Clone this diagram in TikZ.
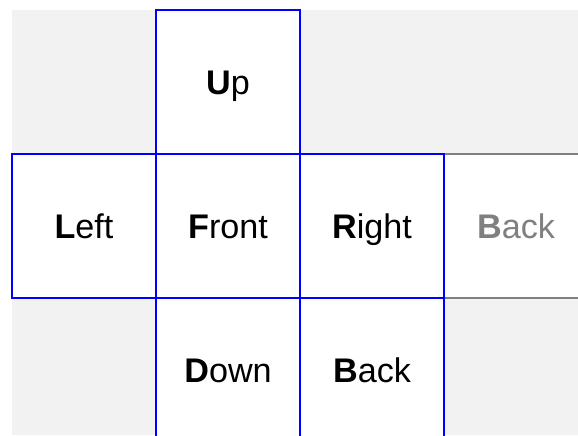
\documentclass[tikz,border=0pt]{standalone}
\usepackage{fontspec}
\setmainfont{Liberation Sans}
\usepackage{tikz}
\usetikzlibrary{positioning}
\definecolor{blau}{HTML}{0000FF}
\definecolor{hgrund}{HTML}{F2F2F2}
\definecolor{grau}{HTML}{808080}
\tikzset{
  seite/.style={rectangle,draw=blau,fill=white,line width=0.6pt,minimum size=2cm,
    inner sep=0pt,outer sep=0pt,text height=9.7pt,text depth=0pt,
    font=\fontsize{13.5}{16}\selectfont},
  seiteg/.style={seite,draw=grau,text=grau},
}
\begin{document}
\begin{tikzpicture}[node distance=0pt]
  \useasboundingbox (-0.167,0.139) rectangle (7.861,-5.903);
  \clip (-0.167,0.139) rectangle (7.861,-5.903);
  \fill[hgrund] (0,0) rectangle (7.861,-5.903);
  % ausgeblendete Rueckseite
  \node[seiteg] (hinten2) at (7,-3) {\textbf{B}ack};
  \node[seite] (vorne) at (3,-3) {\textbf{F}ront};
  \node[seite,above=of vorne] (oben) {\textbf{U}p};
  \node[seite,left=of vorne] (links) {\textbf{L}eft};
  \node[seite,right=of vorne] (rechts) {\textbf{R}ight};
  \node[seite,below=of vorne] (unten) {\textbf{D}own};
  \node[seite,below=of rechts] (hinten) {\textbf{B}ack};
\end{tikzpicture}
\end{document}
